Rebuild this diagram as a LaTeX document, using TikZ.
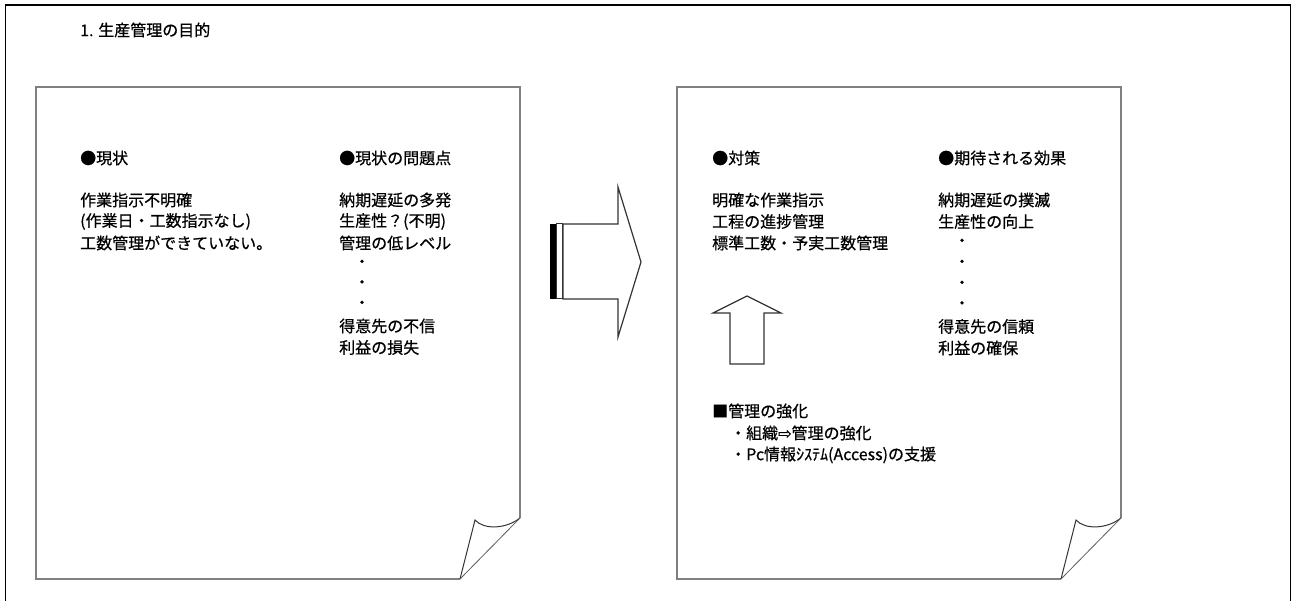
\documentclass[tikz,border=0pt]{standalone}
\usepackage{fontspec}
\setmainfont{Noto Sans CJK JP}[FakeBold=0.6]
\newfontfamily\symfont{DejaVu Sans}[FakeBold=0.6]
\definecolor{pagegray}{HTML}{808080}
\definecolor{lineDk}{HTML}{333333}
\begin{document}
\begin{tikzpicture}[x=1pt,y=-1pt,
  txt/.style={anchor=west,inner sep=0pt,font=\fontsize{16}{16}\selectfont},
  dotc/.style={anchor=center,inner sep=0pt,font=\fontsize{16}{16}\selectfont},
  page/.style={draw=pagegray,line width=2.5pt,line join=miter},
  fold/.style={draw=lineDk,line width=1pt,line join=miter},
  foldedge/.style={draw=lineDk!80,line width=0.8pt},
  arrowshape/.style={draw=lineDk,line width=1.2pt,fill=white,line join=miter}]
\useasboundingbox (0,0) rectangle (1292,601);
% outer frame
\draw[line width=1.5pt] (5.5,601) -- (5.5,5) -- (1290.5,5) -- (1290.5,601);
% title
\node[txt] (title) at (80,30) {1. 生産管理の目的};
% left page
\draw[page] (460,579) -- (36,579) -- (36,87) -- (520,87) -- (520,518);
\draw[fold,fill=white] (460,579) -- (475,520) .. controls (484,530) and (506,529) .. (520,518);
\draw[foldedge] (460,579) -- (520,518);
% right page
\draw[page] (1061,579) -- (677,579) -- (677,87) -- (1121,87) -- (1121,518);
\draw[fold,fill=white] (1061,579) -- (1076,520) .. controls (1085,530) and (1107,529) .. (1121,518);
\draw[foldedge] (1061,579) -- (1121,518);
% left texts
\node[txt] (h1) at (80,158) {●現状};
\node[txt] (a1) at (80,200) {作業指示不明確};
\node[txt] (a2) at (80,221.5) {(作業日・工数指示なし)};
\node[txt] (a3) at (80,243) {工数管理ができていない。};
\node[txt] (h2) at (339,158) {●現状の問題点};
\node[txt] (b1) at (339,200) {納期遅延の多発};
\node[txt] (b2) at (339,221.5) {生産性？(不明)};
\node[txt] (b3) at (339,243) {管理の低レベル};
\node[dotc] (bd1) at (362,263.5) {・};
\node[dotc] (bd2) at (362,284) {・};
\node[dotc] (bd3) at (362,304.5) {・};
\node[txt] (b4) at (339,326) {得意先の不信};
\node[txt] (b5) at (339,347.5) {利益の損失};
% big arrow
\fill[black] (550,224) rectangle (556,299);
\draw[draw=lineDk,line width=1pt,fill=white] (556.5,224) rectangle (562,299);
\draw[arrowshape] (563,224) -- (618,224) -- (618,187) -- (641,262) -- (618,337) -- (618,299) -- (563,299) -- cycle;
% right texts
\node[txt] (h3) at (712,158) {●対策};
\node[txt] (c1) at (712,200) {明確な作業指示};
\node[txt] (c2) at (712,221.5) {工程の進捗管理};
\node[txt] (c3) at (712,243) {標準工数・予実工数管理};
\node[txt] (h4) at (938,158) {●期待される効果};
\node[txt] (d1) at (938,200) {納期遅延の撲滅};
\node[txt] (d2) at (938,221.5) {生産性の向上};
\node[dotc] (dd1) at (962,242.5) {・};
\node[dotc] (dd2) at (962,263.5) {・};
\node[dotc] (dd3) at (962,284.5) {・};
\node[dotc] (dd4) at (962,305) {・};
\node[txt] (d3) at (938,326.5) {得意先の信頼};
\node[txt] (d4) at (938,348) {利益の確保};
% up arrow
\draw[arrowshape] (747,296) -- (781,313) -- (764,313) -- (764,364) -- (730,364) -- (730,313) -- (713,313) -- cycle;
% bottom texts
\node[txt] (h5) at (712,411) {■管理の強化};
\node[txt] (e1) at (730,433) {・組織{\symfont ⇨}管理の強化};
\node[txt] (e2) at (730,455) {・Pc情報ｼｽﾃﾑ(Access)の支援};
\end{tikzpicture}
\end{document}
